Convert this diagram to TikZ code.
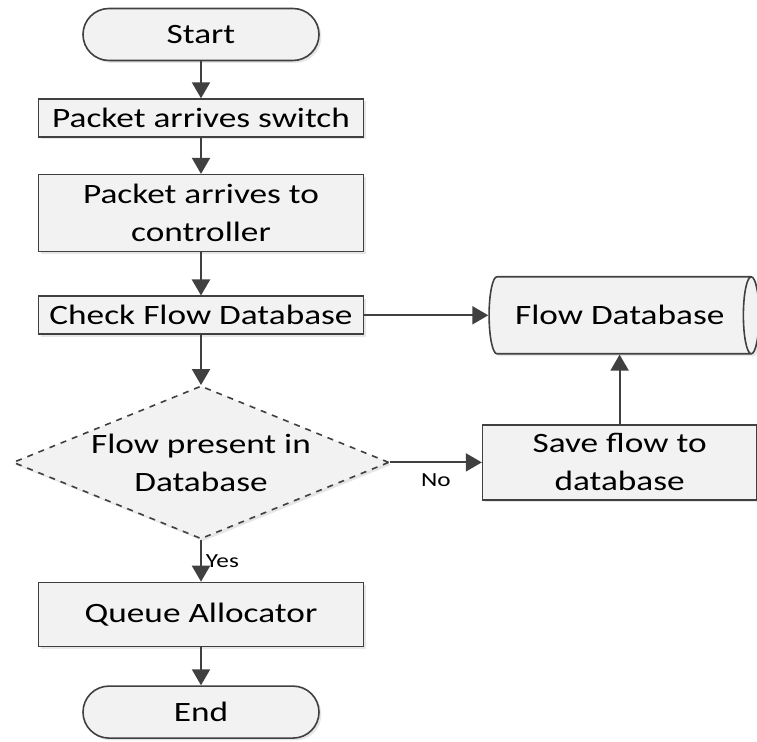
\documentclass[tikz,border=0pt]{standalone}
\usepackage{fontspec}
\setmainfont[FakeStretch=1.26]{Carlito}
\usetikzlibrary{positioning,arrows.meta,shapes.geometric,shadows}
\definecolor{linegray}{HTML}{404040}
\definecolor{boxfill}{HTML}{F2F2F2}

\begin{document}
\begin{tikzpicture}[font=\fontsize{14}{19}\selectfont,
  box/.style={draw=linegray, line width=0.8pt, fill=boxfill, align=center,
              inner sep=0pt, minimum width=162.5pt,
              drop shadow={shadow xshift=1.2pt, shadow yshift=-1.2pt, opacity=0.2}},
  term/.style={box, rounded corners=13pt, minimum width=118pt, minimum height=26pt},
  decision/.style={box, diamond, dashed, aspect=2.46, minimum width=188pt, minimum height=76.5pt},
  store/.style={box, cylinder, aspect=0.8, minimum width=38.5pt, minimum height=135pt},
  arr/.style={-{Triangle[length=8pt,width=9pt]}, line width=1pt, draw=linegray},
  lbl/.style={font=\fontsize{10}{12}\selectfont, inner sep=2pt}]
\useasboundingbox (-100.5pt,17.25pt) rectangle (278pt,-353.75pt);
\node[term] (start) {Start};
\node[box, minimum height=19pt, below=18.5pt of start] (switch) {Packet arrives switch};
\node[box, minimum height=38.5pt, below=18pt of switch] (ctrl) {Packet arrives to\\controller};
\node[box, minimum height=19pt, below=21.5pt of ctrl] (check) {Check Flow Database};
\node[decision, below=25pt of check] (present) {Flow present in\\Database};
\node[box, minimum height=32pt, below=21pt of present] (queue) {Queue Allocator};
\node[term, below=19pt of queue] (end) {End};
\node[store, right=62pt of check] (flowdb) {Flow Database};
\node[box, minimum width=137pt, minimum height=37.5pt, right=46pt of present] (save)
  {Save flow to\\database};
\draw[arr] (start) -- (switch);
\draw[arr] (switch) -- (ctrl);
\draw[arr] (ctrl) -- (check);
\draw[arr] (check) -- (present);
\draw[arr] (check) -- (flowdb);
\draw[arr] (present) -- node[lbl, right]{Yes} (queue);
\draw[arr] (present) -- node[lbl, below=3pt]{No} (save);
\draw[arr] (save.north) -- (save.north |- flowdb.south);
\draw[arr] (queue) -- (end);
\end{tikzpicture}
\end{document}
